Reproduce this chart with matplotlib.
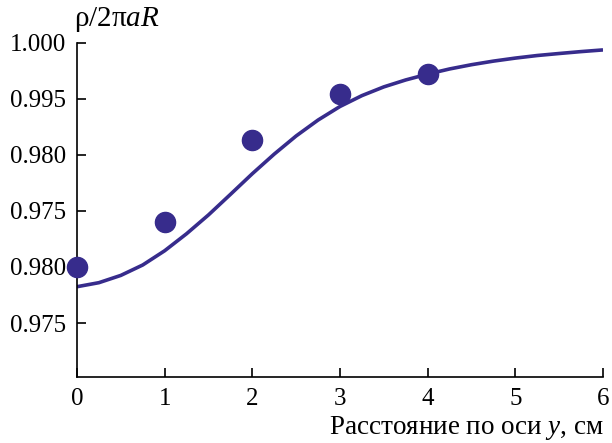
import numpy as np
import matplotlib
matplotlib.use('Agg')
import matplotlib.pyplot as plt

plt.rcParams['font.family'] = 'Liberation Serif'
plt.rcParams['mathtext.fontset'] = 'custom'
plt.rcParams['mathtext.rm'] = 'Liberation Serif'
plt.rcParams['mathtext.it'] = 'Liberation Serif:italic'

# measured points
meas_x = [0, 1, 2, 3, 4]
meas_y = [0.9800, 0.9840, 0.9913, 0.9954, 0.9972]

# calculated curve
curve_x = [0, 0.25, 0.5, 0.75, 1.0, 1.25, 1.5, 1.75, 2.0, 2.25, 2.5, 2.75,
           3.0, 3.25, 3.5, 3.75, 4.0, 4.25, 4.5, 4.75, 5.0, 5.25, 5.5,
           5.75, 6.0]
curve_y = [0.97824, 0.97860, 0.97925, 0.98018, 0.98145, 0.98297, 0.98465,
           0.98648, 0.98833, 0.99008, 0.99170, 0.99312, 0.99433, 0.99530,
           0.99608, 0.99670, 0.99722, 0.99768, 0.99806, 0.99838, 0.99865,
           0.99888, 0.99906, 0.99923, 0.99938]

# tick labels as printed in the original
ytick_vals = [0.975, 0.980, 0.985, 0.990, 0.995, 1.000]
ytick_labels = ['0.975', '0.980', '0.975', '0.980', '0.995', '1.000']
xtick_vals = [0, 1, 2, 3, 4, 5, 6]

color = '#372c8c'

fig = plt.figure(figsize=(6.12, 4.43), dpi=100)
ax = fig.add_axes([0.1258, 0.149, 0.8595, 0.754])

ax.plot(curve_x, curve_y, color=color, lw=2.6, solid_capstyle='butt')
ax.plot(meas_x, meas_y, 'o', color=color, ms=14.5, clip_on=False, zorder=5)

ax.set_xlim(0, 6)
ax.set_ylim(0.97018, 1.000)
ax.set_xticks(xtick_vals)
ax.set_yticks(ytick_vals)
ax.set_yticklabels(ytick_labels)

for s in ['top', 'right']:
    ax.spines[s].set_visible(False)
for s in ['left', 'bottom']:
    ax.spines[s].set_linewidth(1.2)
ax.tick_params(direction='in', length=6.5, width=1.2, labelsize=18, pad=8)

fig.text(0.121, 0.955, r'$\mathrm{ρ/2π}\mathit{aR}$', fontsize=21,
         ha='left', va='center')
fig.text(0.986, 0.034, r'Расстояние по оси $\mathit{y}$, см', fontsize=19.5,
         ha='right', va='center')

fig.savefig('out.png', dpi=100)
